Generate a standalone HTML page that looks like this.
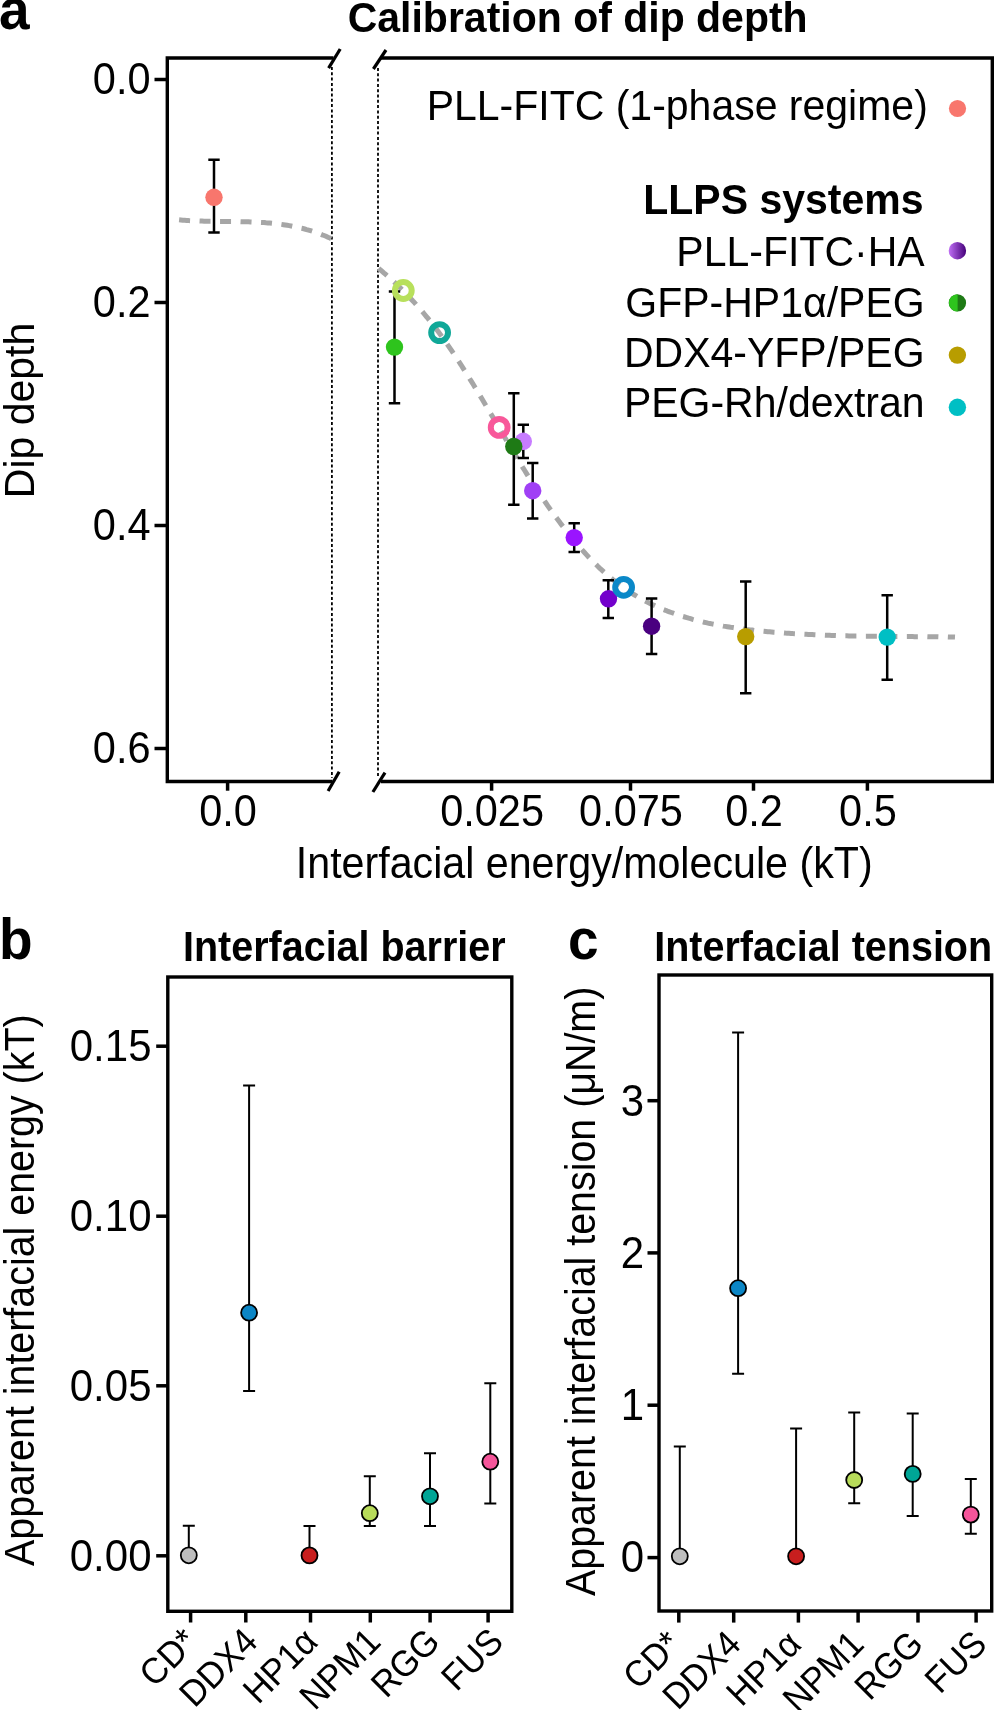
<!DOCTYPE html><html><head><meta charset="utf-8"><style>html,body{margin:0;padding:0;background:#fff;width:994px;height:1710px;overflow:hidden}svg{display:block;will-change:transform}</style></head><body>
<svg width="994" height="1710" viewBox="0 0 994 1710">
<defs><linearGradient id="gp" x1="0" x2="1" y1="0" y2="0"><stop offset="0" stop-color="#C070F5"/><stop offset="1" stop-color="#45007A"/></linearGradient></defs>
<text transform="translate(-1,29) scale(1,1.06)" font-family="Liberation Sans" font-size="55" font-weight="bold">a</text>
<text transform="translate(347.7,31.5) scale(1,1.06)" font-family="Liberation Sans" font-size="41" font-weight="bold">Calibration of dip depth</text>
<path d="M333.5,58.0 H167.3 V781.5 H332.5" fill="none" stroke="#000" stroke-width="3.4" stroke-linejoin="miter"/>
<path d="M381,58.0 H992.3 V781.5 H381" fill="none" stroke="#000" stroke-width="3.4" stroke-linejoin="miter"/>
<line x1="328.6" y1="68.2" x2="340.2" y2="49.0" stroke="#000" stroke-width="3.2"/>
<line x1="373.4" y1="69.0" x2="386" y2="50.0" stroke="#000" stroke-width="3.2"/>
<line x1="328.1" y1="791.0" x2="339.2" y2="771.7" stroke="#000" stroke-width="3.2"/>
<line x1="372.9" y1="792.0" x2="385" y2="772.7" stroke="#000" stroke-width="3.2"/>
<line x1="331.9" y1="67" x2="331.9" y2="778" stroke="#000" stroke-width="1.8" stroke-dasharray="3,2.3"/>
<line x1="378" y1="68" x2="378" y2="776" stroke="#000" stroke-width="1.8" stroke-dasharray="3,2.3"/>
<line x1="154.5" y1="79.5" x2="167.3" y2="79.5" stroke="#000" stroke-width="3.5"/>
<text transform="translate(150.5,93.7) scale(1,1.06)" font-family="Liberation Sans" font-size="41.5" text-anchor="end">0.0</text>
<line x1="154.5" y1="302.5" x2="167.3" y2="302.5" stroke="#000" stroke-width="3.5"/>
<text transform="translate(150.5,316.7) scale(1,1.06)" font-family="Liberation Sans" font-size="41.5" text-anchor="end">0.2</text>
<line x1="154.5" y1="525.5" x2="167.3" y2="525.5" stroke="#000" stroke-width="3.5"/>
<text transform="translate(150.5,539.7) scale(1,1.06)" font-family="Liberation Sans" font-size="41.5" text-anchor="end">0.4</text>
<line x1="154.5" y1="748.5" x2="167.3" y2="748.5" stroke="#000" stroke-width="3.5"/>
<text transform="translate(150.5,762.7) scale(1,1.06)" font-family="Liberation Sans" font-size="41.5" text-anchor="end">0.6</text>
<line x1="227.6" y1="781.5" x2="227.6" y2="790.7" stroke="#000" stroke-width="3.5"/>
<text transform="translate(228.1,826) scale(1,1.06)" font-family="Liberation Sans" font-size="41.5" text-anchor="middle">0.0</text>
<line x1="491.6" y1="781.5" x2="491.6" y2="790.7" stroke="#000" stroke-width="3.5"/>
<text transform="translate(492.1,826) scale(1,1.06)" font-family="Liberation Sans" font-size="41.5" text-anchor="middle">0.025</text>
<line x1="630.5" y1="781.5" x2="630.5" y2="790.7" stroke="#000" stroke-width="3.5"/>
<text transform="translate(631.0,826) scale(1,1.06)" font-family="Liberation Sans" font-size="41.5" text-anchor="middle">0.075</text>
<line x1="753.5" y1="781.5" x2="753.5" y2="790.7" stroke="#000" stroke-width="3.5"/>
<text transform="translate(754.0,826) scale(1,1.06)" font-family="Liberation Sans" font-size="41.5" text-anchor="middle">0.2</text>
<line x1="867.4" y1="781.5" x2="867.4" y2="790.7" stroke="#000" stroke-width="3.5"/>
<text transform="translate(867.9,826) scale(1,1.06)" font-family="Liberation Sans" font-size="41.5" text-anchor="middle">0.5</text>
<text transform="translate(295.8,877.7) scale(1,1.06)" font-family="Liberation Sans" font-size="41.2">Interfacial energy/molecule (kT)</text>
<text transform="translate(34,498.2) rotate(-90) scale(1,1.06)" font-family="Liberation Sans" font-size="41">Dip depth</text>
<path d="M178.9,219.8 L180.8,220.0 L182.8,220.2 L184.7,220.3 L186.6,220.4 L188.6,220.6 L190.5,220.7 L192.4,220.8 L194.4,220.9 L196.3,220.9 L198.3,221.0 L200.2,221.1 L202.1,221.1 L204.1,221.2 L206.0,221.2 L207.9,221.3 L209.9,221.3 L211.8,221.3 L213.7,221.4 L215.7,221.4 L217.6,221.4 L219.5,221.4 L221.5,221.4 L223.4,221.5 L225.4,221.5 L227.3,221.5 L229.2,221.5 L231.2,221.5 L233.1,221.5 L235.0,221.6 L237.0,221.6 L238.9,221.6 L240.8,221.7 L242.8,221.7 L244.7,221.7 L246.6,221.8 L248.6,221.8 L250.5,221.9 L252.4,222.0 L254.4,222.1 L256.3,222.2 L258.3,222.2 L260.2,222.4 L262.1,222.5 L264.1,222.6 L266.0,222.8 L267.9,222.9 L269.9,223.1 L271.8,223.3 L273.7,223.5 L275.7,223.7 L277.6,223.9 L279.5,224.1 L281.5,224.4 L283.4,224.7 L285.3,225.0 L287.3,225.3 L289.2,225.6 L291.2,226.0 L293.1,226.4 L295.0,226.7 L297.0,227.2 L298.9,227.6 L300.8,228.1 L302.8,228.5 L304.7,229.0 L306.6,229.6 L308.6,230.1 L310.5,230.7 L312.4,231.3 L314.4,231.9 L316.3,232.6 L318.3,233.3 L320.2,234.0 L322.1,234.8 L324.1,235.5 L326.0,236.3 L327.9,237.2 L329.9,238.0 L331.8,238.9" fill="none" stroke="#A6A6A6" stroke-width="5" stroke-dasharray="11,9.5" stroke-dashoffset="20.3"/>
<path d="M378.0,267.9 L379.9,269.5 L381.9,271.1 L383.8,272.8 L385.7,274.4 L387.6,276.1 L389.6,277.9 L391.5,279.6 L393.4,281.4 L395.4,283.2 L397.3,285.0 L399.2,286.9 L401.2,288.8 L403.1,290.7 L405.0,292.7 L406.9,294.6 L408.9,296.7 L410.8,298.7 L412.7,300.8 L414.7,302.9 L416.6,305.1 L418.5,307.2 L420.5,309.5 L422.4,311.7 L424.3,314.0 L426.2,316.3 L428.2,318.7 L430.1,321.1 L432.0,323.6 L434.0,326.1 L435.9,328.6 L437.8,331.1 L439.8,333.7 L441.7,336.4 L443.6,339.1 L445.5,341.8 L447.5,344.6 L449.4,347.4 L451.3,350.2 L453.3,353.1 L455.2,356.0 L457.1,358.9 L459.1,361.9 L461.0,364.8 L462.9,367.9 L464.8,370.9 L466.8,374.0 L468.7,377.1 L470.6,380.2 L472.6,383.3 L474.5,386.5 L476.4,389.7 L478.3,392.8 L480.3,396.1 L482.2,399.3 L484.1,402.5 L486.1,405.8 L488.0,409.0 L489.9,412.3 L491.9,415.6 L493.8,418.8 L495.7,422.1 L497.6,425.4 L499.6,428.7 L501.5,432.0 L503.4,435.2 L505.4,438.5 L507.3,441.8 L509.2,445.0 L511.2,448.3 L513.1,451.5 L515.0,454.7 L516.9,457.9 L518.9,461.1 L520.8,464.2 L522.7,467.4 L524.7,470.5 L526.6,473.6 L528.5,476.6 L530.5,479.7 L532.4,482.7 L534.3,485.7 L536.2,488.6 L538.2,491.5 L540.1,494.4 L542.0,497.3 L544.0,500.2 L545.9,503.0 L547.8,505.8 L549.7,508.5 L551.7,511.2 L553.6,513.9 L555.5,516.6 L557.5,519.2 L559.4,521.8 L561.3,524.4 L563.3,526.9 L565.2,529.4 L567.1,531.9 L569.0,534.3 L571.0,536.7 L572.9,539.1 L574.8,541.4 L576.8,543.7 L578.7,546.0 L580.6,548.2 L582.6,550.4 L584.5,552.5 L586.4,554.6 L588.3,556.7 L590.3,558.7 L592.2,560.7 L594.1,562.7 L596.1,564.6 L598.0,566.5 L599.9,568.3 L601.9,570.1 L603.8,571.9 L605.7,573.6 L607.6,575.3 L609.6,576.9 L611.5,578.5 L613.4,580.1 L615.4,581.6 L617.3,583.1 L619.2,584.5 L621.2,586.0 L623.1,587.4 L625.0,588.7 L626.9,590.0 L628.9,591.3 L630.8,592.6 L632.7,593.8 L634.7,595.0 L636.6,596.1 L638.5,597.3 L640.4,598.4 L642.4,599.5 L644.3,600.5 L646.2,601.5 L648.2,602.5 L650.1,603.5 L652.0,604.4 L654.0,605.3 L655.9,606.2 L657.8,607.1 L659.7,607.9 L661.7,608.8 L663.6,609.6 L665.5,610.3 L667.5,611.1 L669.4,611.8 L671.3,612.5 L673.3,613.2 L675.2,613.9 L677.1,614.6 L679.0,615.2 L681.0,615.8 L682.9,616.5 L684.8,617.0 L686.8,617.6 L688.7,618.2 L690.6,618.7 L692.6,619.3 L694.5,619.8 L696.4,620.3 L698.3,620.8 L700.3,621.3 L702.2,621.7 L704.1,622.2 L706.1,622.6 L708.0,623.1 L709.9,623.5 L711.8,623.9 L713.8,624.3 L715.7,624.7 L717.6,625.0 L719.6,625.4 L721.5,625.7 L723.4,626.1 L725.4,626.4 L727.3,626.7 L729.2,627.0 L731.1,627.4 L733.1,627.6 L735.0,627.9 L736.9,628.2 L738.9,628.5 L740.8,628.7 L742.7,629.0 L744.7,629.2 L746.6,629.5 L748.5,629.7 L750.4,629.9 L752.4,630.1 L754.3,630.4 L756.2,630.6 L758.2,630.8 L760.1,630.9 L762.0,631.1 L764.0,631.3 L765.9,631.5 L767.8,631.7 L769.7,631.8 L771.7,632.0 L773.6,632.2 L775.5,632.3 L777.5,632.5 L779.4,632.6 L781.3,632.8 L783.3,632.9 L785.2,633.1 L787.1,633.2 L789.0,633.3 L791.0,633.4 L792.9,633.6 L794.8,633.7 L796.8,633.8 L798.7,633.9 L800.6,634.0 L802.5,634.1 L804.5,634.2 L806.4,634.3 L808.3,634.4 L810.3,634.5 L812.2,634.6 L814.1,634.7 L816.1,634.8 L818.0,634.9 L819.9,635.0 L821.8,635.0 L823.8,635.1 L825.7,635.2 L827.6,635.2 L829.6,635.3 L831.5,635.4 L833.4,635.4 L835.4,635.5 L837.3,635.6 L839.2,635.6 L841.1,635.7 L843.1,635.7 L845.0,635.8 L846.9,635.8 L848.9,635.9 L850.8,635.9 L852.7,635.9 L854.7,636.0 L856.6,636.0 L858.5,636.1 L860.4,636.1 L862.4,636.1 L864.3,636.2 L866.2,636.2 L868.2,636.2 L870.1,636.2 L872.0,636.3 L873.9,636.3 L875.9,636.3 L877.8,636.3 L879.7,636.4 L881.7,636.4 L883.6,636.4 L885.5,636.4 L887.5,636.4 L889.4,636.5 L891.3,636.5 L893.2,636.5 L895.2,636.5 L897.1,636.5 L899.0,636.5 L901.0,636.6 L902.9,636.6 L904.8,636.6 L906.8,636.6 L908.7,636.6 L910.6,636.6 L912.5,636.6 L914.5,636.7 L916.4,636.7 L918.3,636.7 L920.3,636.7 L922.2,636.7 L924.1,636.7 L926.1,636.7 L928.0,636.8 L929.9,636.8 L931.8,636.8 L933.8,636.8 L935.7,636.8 L937.6,636.8 L939.6,636.9 L941.5,636.9 L943.4,636.9 L945.4,636.9 L947.3,636.9 L949.2,637.0 L951.1,637.0 L953.1,637.0 L955.0,637.1" fill="none" stroke="#A6A6A6" stroke-width="5" stroke-dasharray="11,9.5" stroke-dashoffset="19.7"/>
<path d="M214,159.7 V232.4 M208.3,159.7 H219.7 M208.3,232.4 H219.7" stroke="#000" stroke-width="2.5" fill="none"/>
<path d="M394.5,291.5 V403.3 M388.8,291.5 H400.2 M388.8,403.3 H400.2" stroke="#000" stroke-width="2.5" fill="none"/>
<path d="M513.8,393.3 V504.7 M508.09999999999997,393.3 H519.5 M508.09999999999997,504.7 H519.5" stroke="#000" stroke-width="2.5" fill="none"/>
<path d="M523.3,424.7 V457.9 M517.5999999999999,424.7 H529.0 M517.5999999999999,457.9 H529.0" stroke="#000" stroke-width="2.5" fill="none"/>
<path d="M532.7,462.9 V518.4 M527.0,462.9 H538.4000000000001 M527.0,518.4 H538.4000000000001" stroke="#000" stroke-width="2.5" fill="none"/>
<path d="M574.2,523.3 V552 M568.5,523.3 H579.9000000000001 M568.5,552 H579.9000000000001" stroke="#000" stroke-width="2.5" fill="none"/>
<path d="M608.3,580.2 V617.9 M602.5999999999999,580.2 H614.0 M602.5999999999999,617.9 H614.0" stroke="#000" stroke-width="2.5" fill="none"/>
<path d="M651.6,598.4 V654.1 M645.9,598.4 H657.3000000000001 M645.9,654.1 H657.3000000000001" stroke="#000" stroke-width="2.5" fill="none"/>
<path d="M745.7,581.6 V693.3 M740.0,581.6 H751.4000000000001 M740.0,693.3 H751.4000000000001" stroke="#000" stroke-width="2.5" fill="none"/>
<path d="M887.2,595.2 V679.7 M881.5,595.2 H892.9000000000001 M881.5,679.7 H892.9000000000001" stroke="#000" stroke-width="2.5" fill="none"/>
<circle cx="214" cy="197.3" r="8.7" fill="#F8766D"/>
<circle cx="394.5" cy="347.1" r="8.7" fill="#2EC41D"/>
<circle cx="523.3" cy="441.3" r="8.7" fill="#C77CFF"/>
<circle cx="513.8" cy="446.5" r="8.7" fill="#1E7A15"/>
<circle cx="532.7" cy="490.7" r="8.7" fill="#A040F5"/>
<circle cx="574.2" cy="537.6" r="8.7" fill="#9A14FF"/>
<circle cx="608.5" cy="598.8" r="8.7" fill="#7300CC"/>
<circle cx="651.6" cy="626.2" r="8.7" fill="#4A0080"/>
<circle cx="745.7" cy="636.6" r="8.7" fill="#B89D00"/>
<circle cx="887.2" cy="637.1" r="8.7" fill="#00BFC4"/>
<circle cx="403.3" cy="290.5" r="8.4" fill="none" stroke="#B8E05C" stroke-width="6"/>
<circle cx="439.6" cy="332.6" r="8.4" fill="none" stroke="#10A898" stroke-width="6"/>
<circle cx="499.2" cy="427.4" r="8.4" fill="none" stroke="#F8589A" stroke-width="6"/>
<circle cx="623.6" cy="587.3" r="8.4" fill="none" stroke="#0A88C8" stroke-width="6"/>
<text transform="translate(927.8,120) scale(1,1.06)" font-family="Liberation Sans" font-size="41" text-anchor="end">PLL-FITC (1-phase regime)</text>
<circle cx="957.5" cy="108.5" r="8.6" fill="#F8766D"/>
<text transform="translate(923.5,214) scale(1,1.06)" font-family="Liberation Sans" font-size="41" font-weight="bold" text-anchor="end">LLPS systems</text>
<text transform="translate(924.6,266.3) scale(1,1.06)" font-family="Liberation Sans" font-size="41" text-anchor="end">PLL-FITC·HA</text>
<text transform="translate(924.6,316.8) scale(1,1.06)" font-family="Liberation Sans" font-size="41" text-anchor="end">GFP-HP1α/PEG</text>
<text transform="translate(924.6,367.3) scale(1,1.06)" font-family="Liberation Sans" font-size="41" text-anchor="end">DDX4-YFP/PEG</text>
<text transform="translate(924.6,417.3) scale(1,1.06)" font-family="Liberation Sans" font-size="41" text-anchor="end">PEG-Rh/dextran</text>
<circle cx="957.4" cy="250.7" r="8.7" fill="url(#gp)"/>
<circle cx="957.4" cy="302.9" r="8.7" fill="#1E7A15"/><path d="M957.6,294.2 A8.7,8.7 0 0 0 957.6,311.6 Z" fill="#2EC41D"/>
<circle cx="957.4" cy="355.1" r="8.7" fill="#B89D00"/>
<circle cx="957.4" cy="407.3" r="8.7" fill="#00BFC4"/>
<text transform="translate(-1,959) scale(1,1.06)" font-family="Liberation Sans" font-size="55" font-weight="bold">b</text>
<text transform="translate(183,960.7) scale(1,1.06)" font-family="Liberation Sans" font-size="39.5" font-weight="bold">Interfacial barrier</text>
<rect x="167.8" y="977.0" width="344.0" height="634.3" fill="none" stroke="#000" stroke-width="3.4"/>
<line x1="156.2" y1="1046.2" x2="167.8" y2="1046.2" stroke="#000" stroke-width="3.5"/>
<text transform="translate(151.5,1061.0) scale(1,1.06)" font-family="Liberation Sans" font-size="42" text-anchor="end">0.15</text>
<line x1="156.2" y1="1216.2" x2="167.8" y2="1216.2" stroke="#000" stroke-width="3.5"/>
<text transform="translate(151.5,1231.0) scale(1,1.06)" font-family="Liberation Sans" font-size="42" text-anchor="end">0.10</text>
<line x1="156.2" y1="1385.8" x2="167.8" y2="1385.8" stroke="#000" stroke-width="3.5"/>
<text transform="translate(151.5,1400.6) scale(1,1.06)" font-family="Liberation Sans" font-size="42" text-anchor="end">0.05</text>
<line x1="156.2" y1="1555.8" x2="167.8" y2="1555.8" stroke="#000" stroke-width="3.5"/>
<text transform="translate(151.5,1570.6) scale(1,1.06)" font-family="Liberation Sans" font-size="42" text-anchor="end">0.00</text>
<text transform="translate(34,1566) rotate(-90) scale(1,1.06)" font-family="Liberation Sans" font-size="39.4">Apparent interfacial energy (kT)</text>
<line x1="190.6" y1="1611.3" x2="190.6" y2="1622.5" stroke="#000" stroke-width="3.5"/>
<text transform="translate(199.29999999999998,1643.7) rotate(-45) scale(1,1.06)" font-family="Liberation Sans" font-size="34.5" text-anchor="end">CD*</text>
<line x1="245.8" y1="1611.3" x2="245.8" y2="1622.5" stroke="#000" stroke-width="3.5"/>
<text transform="translate(259.5,1643.7) rotate(-45) scale(1,1.06)" font-family="Liberation Sans" font-size="34.5" text-anchor="end">DDX4</text>
<line x1="310.5" y1="1611.3" x2="310.5" y2="1622.5" stroke="#000" stroke-width="3.5"/>
<text transform="translate(319.7,1643.7) rotate(-45) scale(1,1.06)" font-family="Liberation Sans" font-size="34.5" text-anchor="end">HP1α</text>
<line x1="370.3" y1="1611.3" x2="370.3" y2="1622.5" stroke="#000" stroke-width="3.5"/>
<text transform="translate(382.5,1643.7) rotate(-45) scale(1,1.06)" font-family="Liberation Sans" font-size="34.5" text-anchor="end">NPM1</text>
<line x1="430.1" y1="1611.3" x2="430.1" y2="1622.5" stroke="#000" stroke-width="3.5"/>
<text transform="translate(441.8,1643.7) rotate(-45) scale(1,1.06)" font-family="Liberation Sans" font-size="34.5" text-anchor="end">RGG</text>
<line x1="488.1" y1="1611.3" x2="488.1" y2="1622.5" stroke="#000" stroke-width="3.5"/>
<text transform="translate(505.3,1643.7) rotate(-45) scale(1,1.06)" font-family="Liberation Sans" font-size="34.5" text-anchor="end">FUS</text>
<path d="M188.8,1525.7 V1555.3 M182.8,1525.7 H194.8" stroke="#000" stroke-width="2" fill="none"/>
<circle cx="188.8" cy="1555.3" r="8" fill="#BEBEBE" stroke="#000" stroke-width="1.8"/>
<path d="M249.1,1085.4 V1312.7 M243.1,1085.4 H255.1 M249.1,1312.7 V1390.9 M243.1,1390.9 H255.1" stroke="#000" stroke-width="2" fill="none"/>
<circle cx="249.1" cy="1312.7" r="8" fill="#0B86C6" stroke="#000" stroke-width="1.8"/>
<path d="M309.5,1526 V1555.4 M303.5,1526 H315.5" stroke="#000" stroke-width="2" fill="none"/>
<circle cx="309.5" cy="1555.4" r="8" fill="#C81E1E" stroke="#000" stroke-width="1.8"/>
<path d="M369.8,1476.2 V1513.2 M363.8,1476.2 H375.8 M369.8,1513.2 V1526 M363.8,1526 H375.8" stroke="#000" stroke-width="2" fill="none"/>
<circle cx="369.8" cy="1513.2" r="8" fill="#B8DC5A" stroke="#000" stroke-width="1.8"/>
<path d="M430,1453.3 V1496.3 M424,1453.3 H436 M430,1496.3 V1526 M424,1526 H436" stroke="#000" stroke-width="2" fill="none"/>
<circle cx="430" cy="1496.3" r="8" fill="#00A596" stroke="#000" stroke-width="1.8"/>
<path d="M490.3,1383.3 V1461.7 M484.3,1383.3 H496.3 M490.3,1461.7 V1503.5 M484.3,1503.5 H496.3" stroke="#000" stroke-width="2" fill="none"/>
<circle cx="490.3" cy="1461.7" r="8" fill="#F5559A" stroke="#000" stroke-width="1.8"/>
<text transform="translate(568,959) scale(1,1.06)" font-family="Liberation Sans" font-size="55" font-weight="bold">c</text>
<text transform="translate(654.2,960.9) scale(1,1.06)" font-family="Liberation Sans" font-size="39.5" font-weight="bold">Interfacial tension</text>
<rect x="659.0" y="975.0" width="332.70000000000005" height="636.0" fill="none" stroke="#000" stroke-width="3.4"/>
<line x1="647.5" y1="1100.7" x2="659.0" y2="1100.7" stroke="#000" stroke-width="3.5"/>
<text transform="translate(644,1115.5) scale(1,1.06)" font-family="Liberation Sans" font-size="42" text-anchor="end">3</text>
<line x1="647.5" y1="1252.9" x2="659.0" y2="1252.9" stroke="#000" stroke-width="3.5"/>
<text transform="translate(644,1267.7) scale(1,1.06)" font-family="Liberation Sans" font-size="42" text-anchor="end">2</text>
<line x1="647.5" y1="1405.2" x2="659.0" y2="1405.2" stroke="#000" stroke-width="3.5"/>
<text transform="translate(644,1420.0) scale(1,1.06)" font-family="Liberation Sans" font-size="42" text-anchor="end">1</text>
<line x1="647.5" y1="1557.6" x2="659.0" y2="1557.6" stroke="#000" stroke-width="3.5"/>
<text transform="translate(644,1572.3999999999999) scale(1,1.06)" font-family="Liberation Sans" font-size="42" text-anchor="end">0</text>
<text transform="translate(595,1596) rotate(-90) scale(1,1.06)" font-family="Liberation Sans" font-size="39.4">Apparent interfacial tension (μN/m)</text>
<line x1="678.8" y1="1611.0" x2="678.8" y2="1622.6" stroke="#000" stroke-width="3.5"/>
<text transform="translate(683.0,1646.2) rotate(-45) scale(1,1.06)" font-family="Liberation Sans" font-size="34.5" text-anchor="end">CD*</text>
<line x1="733.7" y1="1611.0" x2="733.7" y2="1622.6" stroke="#000" stroke-width="3.5"/>
<text transform="translate(742.9000000000001,1646.2) rotate(-45) scale(1,1.06)" font-family="Liberation Sans" font-size="34.5" text-anchor="end">DDX4</text>
<line x1="798.4" y1="1611.0" x2="798.4" y2="1622.6" stroke="#000" stroke-width="3.5"/>
<text transform="translate(803.1,1646.2) rotate(-45) scale(1,1.06)" font-family="Liberation Sans" font-size="34.5" text-anchor="end">HP1α</text>
<line x1="858.1" y1="1611.0" x2="858.1" y2="1622.6" stroke="#000" stroke-width="3.5"/>
<text transform="translate(865.8000000000001,1646.2) rotate(-45) scale(1,1.06)" font-family="Liberation Sans" font-size="34.5" text-anchor="end">NPM1</text>
<line x1="918" y1="1611.0" x2="918" y2="1622.6" stroke="#000" stroke-width="3.5"/>
<text transform="translate(925.2,1646.2) rotate(-45) scale(1,1.06)" font-family="Liberation Sans" font-size="34.5" text-anchor="end">RGG</text>
<line x1="976.1" y1="1611.0" x2="976.1" y2="1622.6" stroke="#000" stroke-width="3.5"/>
<text transform="translate(988.8000000000001,1646.2) rotate(-45) scale(1,1.06)" font-family="Liberation Sans" font-size="34.5" text-anchor="end">FUS</text>
<path d="M679.8,1446.4 V1556.3 M673.8,1446.4 H685.8" stroke="#000" stroke-width="2" fill="none"/>
<circle cx="679.8" cy="1556.3" r="8" fill="#BEBEBE" stroke="#000" stroke-width="1.8"/>
<path d="M738.1,1032.5 V1288.2 M732.1,1032.5 H744.1 M738.1,1288.2 V1373.8 M732.1,1373.8 H744.1" stroke="#000" stroke-width="2" fill="none"/>
<circle cx="738.1" cy="1288.2" r="8" fill="#0B86C6" stroke="#000" stroke-width="1.8"/>
<path d="M796.1,1428.6 V1556.3 M790.1,1428.6 H802.1" stroke="#000" stroke-width="2" fill="none"/>
<circle cx="796.1" cy="1556.3" r="8" fill="#C81E1E" stroke="#000" stroke-width="1.8"/>
<path d="M854.2,1412.4 V1480 M848.2,1412.4 H860.2 M854.2,1480 V1503.2 M848.2,1503.2 H860.2" stroke="#000" stroke-width="2" fill="none"/>
<circle cx="854.2" cy="1480" r="8" fill="#B8DC5A" stroke="#000" stroke-width="1.8"/>
<path d="M912.7,1413.4 V1473.9 M906.7,1413.4 H918.7 M912.7,1473.9 V1515.9 M906.7,1515.9 H918.7" stroke="#000" stroke-width="2" fill="none"/>
<circle cx="912.7" cy="1473.9" r="8" fill="#00A596" stroke="#000" stroke-width="1.8"/>
<path d="M970.8,1479 V1514.6 M964.8,1479 H976.8 M970.8,1514.6 V1533.7 M964.8,1533.7 H976.8" stroke="#000" stroke-width="2" fill="none"/>
<circle cx="970.8" cy="1514.6" r="8" fill="#F5559A" stroke="#000" stroke-width="1.8"/>
</svg></body></html>
